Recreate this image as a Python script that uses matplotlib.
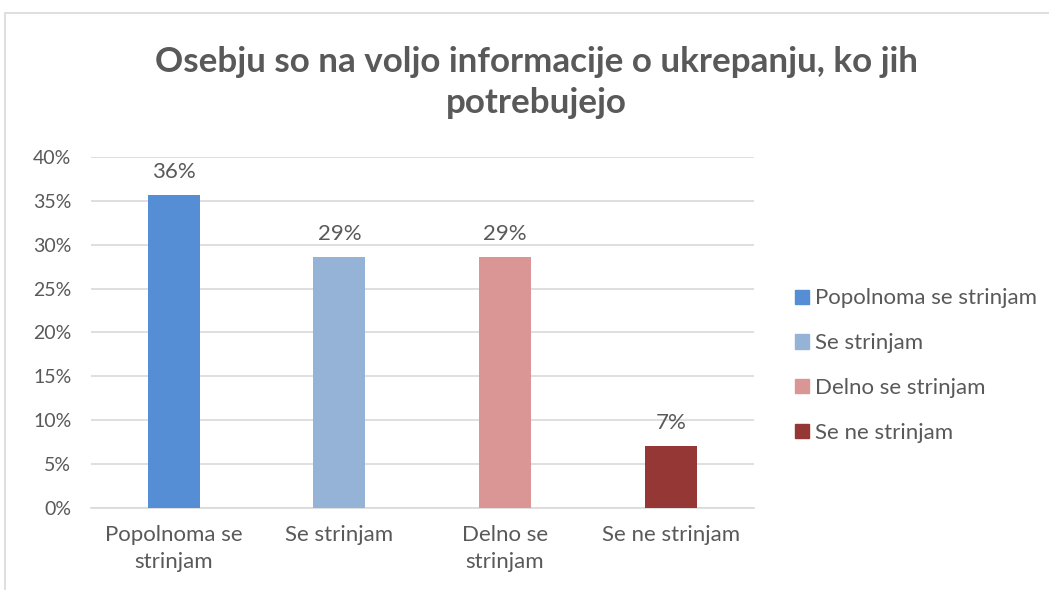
import matplotlib.pyplot as plt
from matplotlib.patches import Rectangle

categories = ["Popolnoma se\nstrinjam", "Se strinjam", "Delno se\nstrinjam", "Se ne strinjam"]
legend_names = ["Popolnoma se strinjam", "Se strinjam", "Delno se strinjam", "Se ne strinjam"]
values = [35.7, 28.6, 28.6, 7.1]
value_labels = ["36%", "29%", "29%", "7%"]
colors = ["#558ED5", "#95B3D7", "#D99694", "#953735"]
yticks = [0, 5, 10, 15, 20, 25, 30, 35, 40]

plt.rcParams['font.family'] = ['Lato', 'DejaVu Sans']
txt = "#595959"
grid = "#D9D9D9"

fig = plt.figure(figsize=(10.49, 5.90), dpi=100)
ax = fig.add_axes([0.0865, 0.139, 0.632, 0.595])

# outer chart border
fig.patches.append(Rectangle((5 / 1049, -0.1), 1.2, 1 - 13 / 590 + 0.1,
                             transform=fig.transFigure, fill=False,
                             edgecolor=grid, linewidth=1.2))

x = range(len(values))
bars = ax.bar(x, values, width=0.315, color=colors, zorder=3)
for i, b in enumerate(bars):
    ax.annotate(value_labels[i], (b.get_x() + b.get_width() / 2, values[i]),
                xytext=(0, 9), textcoords='offset points',
                ha='center', va='bottom', fontsize=16, color=txt)

ax.set_xlim(-0.5, 3.5)
ax.set_ylim(0, 40)
ax.set_yticks(yticks)
ax.set_yticklabels([f"{t}%" for t in yticks], fontsize=14, color=txt)
ax.set_xticks(list(x))
ax.set_xticklabels(categories, fontsize=16, color=txt, linespacing=1.45)
ax.tick_params(length=0)
ax.tick_params(axis='y', pad=14)
ax.tick_params(axis='x', pad=12)
ax.grid(axis='y', color=grid, linewidth=1.2, zorder=0)
for s in ['top', 'right', 'left']:
    ax.spines[s].set_visible(False)
ax.spines['bottom'].set_color(grid)
ax.spines['bottom'].set_linewidth(1.2)

fig.text(0.511, 0.860, "Osebju so na voljo informacije o ukrepanju, ko jih\npotrebujejo",
         ha='center', va='center', fontsize=25.2, fontweight='bold', color=txt,
         linespacing=1.32)

handles = [Rectangle((0, 0), 1, 1, color=c) for c in colors]
fig.legend(handles, legend_names, loc='center left', bbox_to_anchor=(0.739, 0.38),
           frameon=False, fontsize=16, labelcolor=txt, handlelength=0.6,
           handleheight=0.6, handletextpad=0.3, labelspacing=1.12)

fig.savefig("out.png", dpi=100)
